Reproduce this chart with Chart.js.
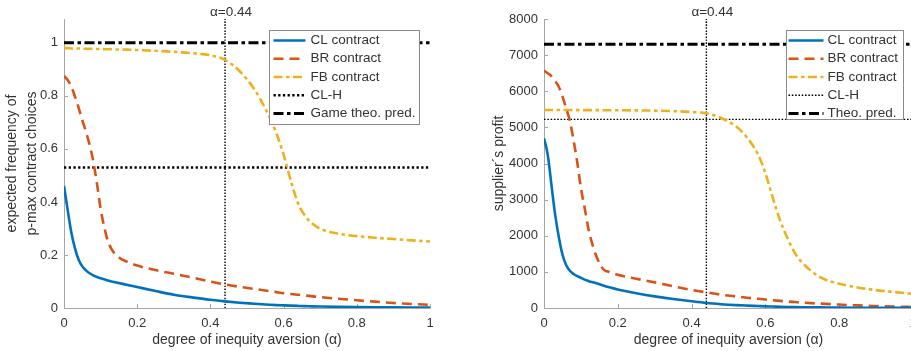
<!DOCTYPE html>
<html>
<head>
<meta charset="utf-8">
<script src="https://cdn.jsdelivr.net/npm/chart.js@4.4.1/dist/chart.umd.min.js"></script>
<style>
  html, body { margin: 0; padding: 0; background: #fff; overflow: hidden; width: 911px; height: 351px; }
  canvas { position: absolute; top: 0; }
  #left { left: 0; }
  #right { left: 455px; }
</style>
</head>
<body>
<canvas id="left" width="455" height="351"></canvas>
<canvas id="right" width="480" height="351"></canvas>
<script>
/////////////////////////////////////////////////////////////
// data
/////////////////////////////////////////////////////////////
const alpha = [0, 0.01, 0.02, 0.03, 0.04, 0.05, 0.06, 0.07, 0.08, 0.09, 0.1,
  0.11, 0.12, 0.13, 0.14, 0.16, 0.18, 0.2, 0.25, 0.3, 0.35, 0.4, 0.44,
  0.48, 0.52, 0.55, 0.58, 0.6, 0.62, 0.64, 0.66, 0.68, 0.7, 0.75, 0.8, 0.85, 0.9, 0.95, 1]

// left panel: expected frequency of p-max contract choices
const freqCL = [0.46, 0.37, 0.285, 0.225, 0.182, 0.157, 0.142, 0.131, 0.123, 0.117, 0.112,
  0.108, 0.104, 0.100, 0.097, 0.091, 0.085, 0.079, 0.064, 0.050, 0.040, 0.031, 0.025,
  0.020, 0.016, 0.013, 0.011, 0.010, 0.009, 0.008, 0.007, 0.006, 0.0055, 0.0045, 0.0037, 0.003, 0.0025, 0.002, 0.0015]
const freqBR = [0.875, 0.86, 0.835, 0.797, 0.755, 0.708, 0.665, 0.615, 0.553, 0.47, 0.375,
  0.305, 0.252, 0.222, 0.202, 0.182, 0.170, 0.160, 0.143, 0.129, 0.115, 0.100, 0.089,
  0.080, 0.072, 0.066, 0.060, 0.056, 0.053, 0.050, 0.047, 0.044, 0.041, 0.035, 0.029, 0.024, 0.019, 0.015, 0.012]
const freqFB = [0.980, 0.980, 0.979, 0.979, 0.979, 0.978, 0.978, 0.978, 0.977, 0.977, 0.977,
  0.976, 0.976, 0.976, 0.975, 0.975, 0.974, 0.973, 0.970, 0.966, 0.961, 0.953, 0.936,
  0.893, 0.825, 0.752, 0.66, 0.578, 0.479, 0.393, 0.345, 0.317, 0.299, 0.280, 0.271, 0.265, 0.260, 0.255, 0.251]
const freqCLH = 0.53
const freqGame = 1

// right panel: supplier's profit
const profitCL = [4700, 4250, 3420, 2600, 1974, 1480, 1190, 1030, 941, 885, 835,
  785, 750, 718, 690, 625, 565, 512, 410, 322, 250, 185, 138,
  105, 80, 66, 54, 46, 40, 34, 29, 25, 22, 16, 10, 7, 5, 3, 2]
const profitBR = [6570, 6500, 6420, 6280, 6126, 5860, 5530, 5180, 4650, 4040, 3320,
  2780, 2210, 1800, 1480, 1080, 990, 920, 810, 710, 600, 500, 433,
  370, 320, 285, 255, 235, 215, 198, 180, 165, 150, 120, 95, 72, 55, 40, 28]
const profitFB = [5480, 5480, 5480, 5480, 5480, 5480, 5479, 5479, 5479, 5478, 5478,
  5478, 5477, 5477, 5477, 5476, 5475, 5474, 5470, 5463, 5450, 5425, 5390,
  5260, 5030, 4720, 4250, 3733, 3050, 2420, 1930, 1521, 1250, 845, 673, 570, 495, 440, 390]
const profitCLH = 5220
const profitTheo = 7300

const alphaMark = 0.44

// tick labels
const alphaTicks = [0, 0.2, 0.4, 0.6, 0.8, 1]
const freqTicks = [0, 0.2, 0.4, 0.6, 0.8, 1]
const profitTicks = [0, 1000, 2000, 3000, 4000, 5000, 6000, 7000, 8000]

/////////////////////////////////////////////////////////////
// look
/////////////////////////////////////////////////////////////
const FONT = '"Liberation Sans", Arial, Helvetica, sans-serif'
const textCol = '#333333'
const axisGray = '#a6a6a6'
Chart.defaults.font.family = FONT
Chart.defaults.color = textCol

const pts = ys => alpha.map((a, i) => ({ x: a, y: ys[i] }))
const flat = v => [{ x: 0, y: v }, { x: 1, y: v }]
const fmt = v => String(+Number(v).toFixed(2))

// legend in a box inside the axes
const boxLegend = {
  id: 'boxLegend',
  afterDatasetsDraw(chart, args, o) {
    const ctx = chart.ctx
    const items = chart.data.datasets.filter(d => d.label)
    ctx.save()
    ctx.font = '13.5px ' + FONT
    const textW = Math.max(...items.map(d => ctx.measureText(d.label).width))
    const w = Math.round(o.padLeft + o.sample + o.gap + textW + o.padRight)
    const x0 = Math.round(chart.chartArea.right - o.marginRight - w) + 0.5
    const y0 = Math.round(chart.chartArea.top + o.marginTop) + 0.5
    ctx.fillStyle = '#fff'
    ctx.fillRect(x0, y0, w, o.height)
    ctx.strokeStyle = '#8a8a8a'
    ctx.lineWidth = 1
    ctx.strokeRect(x0, y0, w, o.height)
    ctx.textBaseline = 'middle'
    ctx.fillStyle = textCol
    items.forEach((d, i) => {
      const y = y0 + o.firstRow + i * o.rowH
      ctx.beginPath()
      ctx.setLineDash(d.borderDash || [])
      ctx.lineWidth = d.borderWidth
      ctx.strokeStyle = d.borderColor
      ctx.moveTo(x0 + o.padLeft, y)
      ctx.lineTo(x0 + o.padLeft + o.sample, y)
      ctx.stroke()
      ctx.fillText(d.label, x0 + o.padLeft + o.sample + o.gap, y)
    })
    ctx.restore()
  }
}

// matlab style inward tick marks
const inTicks = {
  id: 'inTicks',
  beforeDatasetsDraw(chart) {
    const { ctx, chartArea: a, scales: { x, y } } = chart
    ctx.save()
    ctx.strokeStyle = axisGray
    ctx.lineWidth = 1
    ctx.beginPath()
    x.ticks.forEach(t => {
      const px = Math.round(x.getPixelForValue(t.value)) + 0.5
      if (px > a.right + 1) return
      ctx.moveTo(px, a.bottom)
      ctx.lineTo(px, a.bottom - 4)
    })
    y.ticks.forEach(t => {
      const py = Math.round(y.getPixelForValue(t.value)) + 0.5
      ctx.moveTo(a.left, py)
      ctx.lineTo(a.left + 4, py)
    })
    ctx.stroke()
    ctx.restore()
  }
}

// "alpha=0.44" text over the vertical marker
const markLabel = {
  id: 'markLabel',
  afterDraw(chart) {
    const ctx = chart.ctx
    const px = chart.scales.x.getPixelForValue(alphaMark)
    ctx.save()
    ctx.font = '13.5px ' + FONT
    ctx.fillStyle = textCol
    ctx.textAlign = 'center'
    ctx.textBaseline = 'middle'
    ctx.fillText('α=' + alphaMark, px + 6, 12.5)
    ctx.restore()
  }
}

function makeChart(id, s) {
  const datasets = [
    { label: 'CL contract', data: pts(s.cl), borderColor: '#0072BD', borderWidth: 2.6, borderDash: [] },
    { label: 'BR contract', data: pts(s.br), borderColor: '#D95319', borderWidth: 2.6, borderDash: [10, 6] },
    { label: 'FB contract', data: pts(s.fb), borderColor: '#EDB120', borderWidth: 2.6, borderDash: [9, 3.5, 3.5, 3.5] },
    { label: 'CL-H', data: flat(s.clh), borderColor: '#000', borderWidth: s.clhWidth, borderDash: s.clhDash },
    { label: s.theoLabel, data: flat(s.theo), borderColor: '#000', borderWidth: 3, borderDash: [10, 3.5, 3.5, 3.5] },
    { label: '', data: [{ x: alphaMark, y: 0 }, { x: alphaMark, y: s.yMax }], borderColor: '#000', borderWidth: 1.4, borderDash: [1.5, 1.5] }
  ].map(d => Object.assign(d, {
    pointRadius: 0, fill: false, cubicInterpolationMode: 'monotone', borderCapStyle: 'butt'
  }))

  return new Chart(document.getElementById(id), {
    type: 'line',
    data: { datasets },
    plugins: [inTicks, boxLegend, markLabel],
    options: {
      responsive: false,
      animation: false,
      devicePixelRatio: 1,
      layout: { padding: { left: 0, right: s.padRight, top: 19, bottom: 0 } },
      plugins: {
        legend: { display: false },
        tooltip: { enabled: false },
        boxLegend: s.legend
      },
      scales: {
        x: {
          type: 'linear', min: 0, max: 1,
          afterBuildTicks: sc => { sc.ticks = alphaTicks.map(v => ({ value: v })) },
          afterFit: sc => { sc.height = 43 },
          grid: { display: false, drawTicks: false },
          border: { display: true, color: axisGray, width: 1 },
          ticks: { color: textCol, font: { size: 13 }, padding: 8, maxRotation: 0, autoSkip: false, callback: fmt },
          title: { display: true, text: 'degree of inequity aversion (α)', color: textCol,
            font: { size: 14 }, padding: { top: 0, bottom: 2 } }
        },
        y: {
          type: 'linear', min: 0, max: s.yMax,
          afterBuildTicks: sc => { sc.ticks = s.yTicks.map(v => ({ value: v })) },
          afterFit: sc => { sc.width = s.yWidth },
          grid: { display: false, drawTicks: false },
          border: { display: true, color: axisGray, width: 1 },
          ticks: { color: textCol, font: { size: 13 }, padding: 6, autoSkip: false, callback: fmt },
          title: { display: true, text: s.yTitle, color: textCol,
            font: { size: 14, lineHeight: 1.45 }, padding: { top: s.yTitlePad, bottom: 0 } }
        }
      }
    }
  })
}

const leftChart = makeChart('left', {
  cl: freqCL, br: freqBR, fb: freqFB, clh: freqCLH, theo: freqGame,
  theoLabel: 'Game theo. pred.', clhWidth: 2.3, clhDash: [2.3, 2.4],
  yMax: 1.09, yTicks: freqTicks, yWidth: 64, padRight: 25,
  yTitle: ['expected frequency of', 'p-max contract choices'], yTitlePad: 2,
  legend: { padLeft: 4, sample: 32, gap: 5, padRight: 4, marginRight: 11, marginTop: 11,
    height: 94, firstRow: 10, rowH: 18.25 }
})

const rightChart = makeChart('right', {
  cl: profitCL, br: profitBR, fb: profitFB, clh: profitCLH, theo: profitTheo,
  theoLabel: 'Theo. pred.', clhWidth: 1.3, clhDash: [1.6, 1.7],
  yMax: 8000, yTicks: profitTicks, yWidth: 89, padRight: 22,
  yTitle: 'supplier´s profit', yTitlePad: 34,
  legend: { padLeft: 2, sample: 35, gap: 4, padRight: 5, marginRight: 10, marginTop: 11,
    height: 89, firstRow: 10, rowH: 18.25 }
})
</script>
</body>
</html>
